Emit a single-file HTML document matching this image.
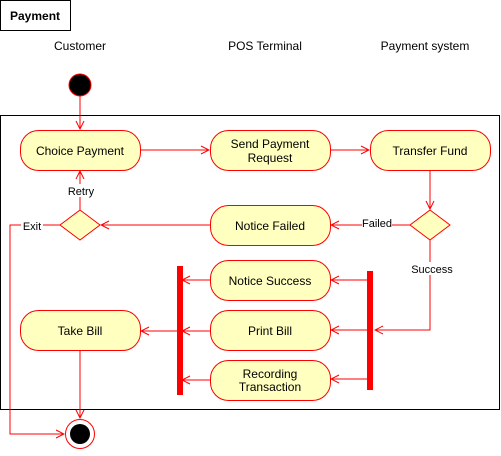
<!DOCTYPE html>
<html><head><meta charset="utf-8"><style>
body{margin:0;background:#fff}
svg text{font-family:"Liberation Sans",sans-serif;font-size:12px;fill:#000}
</style></head><body>
<svg width="501" height="451" viewBox="0 0 501 451" xmlns="http://www.w3.org/2000/svg">
<defs>
<marker id="a" markerWidth="10" markerHeight="10" refX="9" refY="5" orient="auto" markerUnits="userSpaceOnUse">
<path d="M1,1 L9,5 L1,9" fill="none" stroke="#f00" stroke-width="1"/></marker>
</defs>
<rect x="0.5" y="0.5" width="70" height="30" fill="#fff" stroke="#000"/>
<text x="10" y="20" font-weight="bold">Payment</text>
<text x="80" y="50" text-anchor="middle">Customer</text>
<text x="265" y="50" text-anchor="middle">POS Terminal</text>
<text x="425" y="50" text-anchor="middle">Payment system</text>
<rect x="0.5" y="115.5" width="499" height="294" fill="none" stroke="#000"/>
<g fill="none" stroke="#f00" stroke-width="1">
<path d="M80,96 V129" marker-end="url(#a)"/>
<path d="M140,150 H209" marker-end="url(#a)"/>
<path d="M330,150 H369" marker-end="url(#a)"/>
<path d="M430,170 V209" marker-end="url(#a)"/>
<path d="M410,225 H331" marker-end="url(#a)"/>
<path d="M210,225 H101" marker-end="url(#a)"/>
<path d="M80,210 V171" marker-end="url(#a)"/>
<path d="M60,225 H10 V434 H64" marker-end="url(#a)"/>
<path d="M430,240 V330 H375" marker-end="url(#a)"/>
<path d="M367,280 H331" marker-end="url(#a)"/>
<path d="M367,330 H331" marker-end="url(#a)"/>
<path d="M367,379 H331" marker-end="url(#a)"/>
<path d="M210,280 H182" marker-end="url(#a)"/>
<path d="M210,331 H182" marker-end="url(#a)"/>
<path d="M210,380 H182" marker-end="url(#a)"/>
<path d="M177,331 H141" marker-end="url(#a)"/>
<path d="M80,350 V418" marker-end="url(#a)"/>
</g>
<rect x="177" y="266" width="6" height="129" fill="#f00"/>
<rect x="367" y="271" width="6" height="119" fill="#f00"/>
<circle cx="80" cy="85" r="11" fill="#000" stroke="#f00"/>
<circle cx="80" cy="434" r="14.5" fill="#fff" stroke="#f00"/>
<circle cx="80" cy="434" r="10" fill="#000"/>
<g fill="#ffffc0" stroke="#f00">
<rect x="20.5" y="130.5" width="120" height="40" rx="18"/>
<rect x="210.5" y="130.5" width="120" height="40" rx="18"/>
<rect x="370.5" y="130.5" width="120" height="40" rx="18"/>
<rect x="210.5" y="205.5" width="120" height="40" rx="18"/>
<rect x="210.5" y="260.5" width="120" height="40" rx="18"/>
<rect x="210.5" y="310.5" width="120" height="40" rx="18"/>
<rect x="210.5" y="360.5" width="120" height="40" rx="18"/>
<rect x="20.5" y="310.5" width="120" height="40" rx="18"/>
<path d="M80,210 L100,225 L80,240 L60,225 Z"/>
<path d="M430,210 L450,225 L430,240 L410,225 Z"/>
</g>
<g text-anchor="middle">
<text x="80" y="155">Choice Payment</text>
<text x="270" y="148">Send Payment</text>
<text x="270" y="162">Request</text>
<text x="430" y="155">Transfer Fund</text>
<text x="270" y="230">Notice Failed</text>
<text x="270" y="285">Notice Success</text>
<text x="270" y="335">Print Bill</text>
<text x="270" y="378">Recording</text>
<text x="270" y="391">Transaction</text>
<text x="80" y="335">Take Bill</text>
</g>
<g font-size="11">
<rect x="66" y="184" width="30" height="13" fill="#fff"/>
<text x="81" y="195" text-anchor="middle" style="font-size:11px">Retry</text>
<rect x="21" y="219" width="22" height="13" fill="#fff"/>
<text x="32" y="230" text-anchor="middle" style="font-size:11px">Exit</text>
<rect x="362" y="217" width="30" height="13" fill="#fff"/>
<text x="377" y="227" text-anchor="middle" style="font-size:11px">Failed</text>
<rect x="411" y="262" width="42" height="13" fill="#fff"/>
<text x="432" y="273" text-anchor="middle" style="font-size:11px">Success</text>
</g>
</svg>
</body></html>
